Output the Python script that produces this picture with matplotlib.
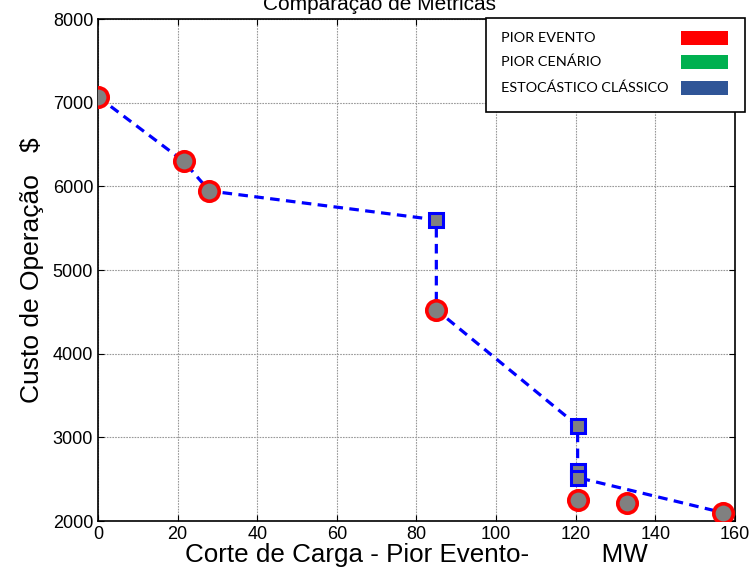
import matplotlib
matplotlib.use("Agg")
import matplotlib.pyplot as plt
from matplotlib.patches import Rectangle

plt.rcParams['font.family'] = ['Liberation Sans', 'DejaVu Sans']

# dashed frontier path (load shed MW, cost $)
path_x = [0, 21.5, 28, 85, 85, 120.5, 120.5, 120.5, 157]
path_y = [7070, 6300, 5945, 5600, 4525, 3140, 2600, 2520, 2100]

# square points on the frontier
sq_x = [85, 120.5, 120.5, 120.5]
sq_y = [5600, 3140, 2600, 2520]

# circle points (worst event)
circ_x = [0, 21.5, 28, 85, 120.5, 132.8, 157]
circ_y = [7070, 6300, 5945, 4525, 2250, 2210, 2100]

legend_labels = ['PIOR EVENTO', 'PIOR CENÁRIO', 'ESTOCÁSTICO CLÁSSICO']
legend_colors = ['#FF0000', '#00B050', '#2F5597']

fig = plt.figure(figsize=(7.51, 5.80), dpi=100)
ax = fig.add_axes([0.1305, 0.1017, 0.848, 0.8655])

ax.plot(path_x, path_y, color='#0000FF', linestyle='--', linewidth=2.3,
        dashes=(3, 2), zorder=2)
ax.plot(sq_x, sq_y, linestyle='none', marker='s', markersize=9.5,
        markerfacecolor='#808080', markeredgecolor='#0000FF',
        markeredgewidth=2.2, zorder=3)
ax.plot(circ_x, circ_y, linestyle='none', marker='o', markersize=14,
        markerfacecolor='#808080', markeredgecolor='#FF0000',
        markeredgewidth=2.6, zorder=4)

ax.set_xlim(0, 160)
ax.set_ylim(2000, 8000)
ax.set_xticks(range(0, 161, 20))
ax.set_yticks(range(2000, 8001, 1000))
ax.grid(True, color='#999999', linewidth=0.8, linestyle=(0, (1.5, 1)))
ax.tick_params(direction='in', top=True, right=True, labelsize=13, length=4)
for s in ax.spines.values():
    s.set_linewidth(1.2)

ax.set_xlabel('Corte de Carga - Pior Evento-          MW', fontsize=18.7,
              labelpad=0)
ax.set_ylabel('Custo de Operação   $', fontsize=19, labelpad=6)
fig.text(0.505, 0.992, 'Comparação de Métricas', ha='center', va='center',
         fontsize=15)

# legend box drawn in figure coordinates
fig.patches.append(Rectangle((0.647, 0.807), 0.345, 0.162,
                             transform=fig.transFigure, facecolor='white',
                             edgecolor='black', linewidth=1.2, zorder=10))
row_y = [0.9345, 0.893, 0.848]
for lab, col, y in zip(legend_labels, legend_colors, row_y):
    fig.text(0.667, y, lab, fontsize=10.4, family=['Lato', 'DejaVu Sans'],
             va='center', zorder=11)
    fig.patches.append(Rectangle((0.907, y - 0.0125), 0.063, 0.025,
                                 transform=fig.transFigure, facecolor=col,
                                 edgecolor='none', zorder=11))

fig.savefig('out.png', dpi=100)
